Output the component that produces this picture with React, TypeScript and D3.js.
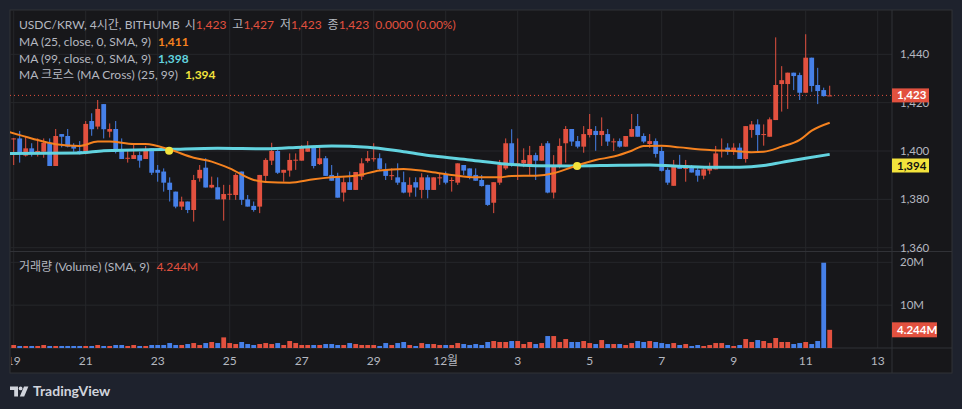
import * as d3 from 'd3';

// 4h candles from 2024-11-19 00:00, index i -> +4h*i
const opens = [
  1405.0, 1405.2, 1398.1, 1401.1, 1398.8, 1399.7, 1403.2, 1393.8, 1407.0, 1406.2,
  1402.1, 1400.0, 1399.0, 1412.4, 1410.1, 1419.4, 1408.0, 1409.1, 1400.0, 1396.9,
  1396.7, 1398.3, 1396.7, 1401.1, 1392.2, 1391.5, 1386.9, 1383.2, 1377.0, 1379.1,
  1375.6, 1388.7, 1393.1, 1384.9, 1385.0, 1380.0, 1382.0, 1381.8, 1391.5, 1380.0,
  1377.3, 1377.0, 1389.7, 1396.0, 1400.0, 1391.0, 1391.9, 1396.2, 1396.0, 1399.7,
  1402.1, 1394.6, 1397.0, 1390.1, 1389.1, 1382.8, 1387.1, 1383.9, 1389.4, 1395.9,
  1396.8, 1397.0, 1392.2, 1389.9, 1389.1, 1387.1, 1382.8, 1387.1, 1383.9, 1389.1,
  1383.9, 1389.0, 1390.1, 1387.9, 1386.9, 1394.2, 1392.8, 1390.1, 1388.0, 1386.0,
  1378.6, 1386.9, 1392.8, 1403.2, 1393.8, 1394.9, 1393.8, 1398.3, 1396.0, 1403.2,
  1382.8, 1393.8, 1403.2, 1409.1, 1404.1, 1401.8, 1406.6, 1408.3, 1406.6, 1407.0,
  1403.8, 1404.1, 1401.8, 1405.9, 1410.3, 1406.2, 1402.9, 1404.1, 1400.0, 1392.2,
  1385.6, 1394.2, 1392.6, 1393.1, 1392.2, 1389.8, 1391.9, 1392.4, 1400.1, 1401.4,
  1399.7, 1401.4, 1396.7, 1408.7, 1411.0, 1406.8, 1405.9, 1412.8, 1427.7, 1427.7,
  1432.4, 1431.4, 1424.1, 1438.6, 1427.3, 1425.2, 1423.0,
];
const highs = [
  1405.4, 1408.3, 1405.9, 1403.2, 1405.2, 1405.2, 1405.2, 1409.1, 1407.0, 1409.1,
  1403.2, 1404.1, 1412.4, 1415.6, 1421.1, 1419.4, 1411.4, 1412.4, 1405.2, 1400.0,
  1403.2, 1399.7, 1402.1, 1401.1, 1394.2, 1392.8, 1389.1, 1383.2, 1381.1, 1379.1,
  1390.1, 1394.2, 1397.0, 1389.4, 1389.1, 1386.0, 1386.0, 1390.8, 1391.5, 1381.8,
  1379.1, 1390.1, 1397.0, 1403.4, 1401.4, 1392.2, 1399.0, 1399.0, 1402.5, 1404.1,
  1402.1, 1401.4, 1397.9, 1394.2, 1391.0, 1389.1, 1391.5, 1391.3, 1397.0, 1400.0,
  1403.2, 1399.0, 1394.9, 1392.8, 1394.9, 1391.5, 1389.1, 1389.1, 1390.8, 1390.1,
  1389.1, 1390.8, 1391.5, 1389.1, 1394.9, 1394.2, 1392.8, 1392.8, 1390.1, 1386.0,
  1387.1, 1396.3, 1405.2, 1409.0, 1405.2, 1401.1, 1402.1, 1399.3, 1403.2, 1404.1,
  1398.3, 1405.2, 1410.3, 1409.1, 1406.2, 1410.3, 1415.3, 1410.3, 1413.9, 1409.1,
  1405.2, 1405.2, 1406.2, 1415.3, 1415.3, 1407.3, 1407.0, 1405.2, 1401.8, 1393.1,
  1396.3, 1398.4, 1396.3, 1394.2, 1393.1, 1393.1, 1395.2, 1402.1, 1405.2, 1403.2,
  1403.2, 1403.2, 1410.3, 1412.4, 1413.1, 1411.0, 1413.9, 1447.0, 1435.1, 1432.4,
  1432.4, 1432.4, 1448.3, 1438.6, 1434.4, 1426.2, 1427.0,
];
const lows = [
  1394.2, 1395.2, 1397.7, 1397.7, 1397.7, 1397.2, 1393.8, 1393.8, 1401.5, 1401.5,
  1399.7, 1398.6, 1398.6, 1406.3, 1409.0, 1405.2, 1405.6, 1399.0, 1396.7, 1395.2,
  1396.7, 1393.1, 1396.7, 1390.1, 1387.3, 1383.2, 1379.1, 1376.3, 1375.6, 1374.3,
  1370.8, 1387.3, 1384.9, 1384.6, 1380.0, 1371.2, 1379.8, 1379.8, 1377.7, 1377.0,
  1374.9, 1374.3, 1387.3, 1394.2, 1390.5, 1387.3, 1389.4, 1392.2, 1396.0, 1399.7,
  1392.8, 1394.2, 1389.7, 1387.7, 1380.7, 1379.1, 1383.9, 1383.9, 1388.0, 1395.2,
  1395.6, 1391.7, 1388.0, 1388.0, 1386.0, 1382.5, 1381.1, 1381.1, 1380.4, 1380.4,
  1383.9, 1386.0, 1386.2, 1383.2, 1386.0, 1390.1, 1388.3, 1387.7, 1385.3, 1377.3,
  1374.3, 1386.0, 1392.2, 1393.5, 1388.0, 1393.3, 1390.1, 1388.0, 1396.0, 1382.5,
  1380.4, 1392.8, 1395.2, 1402.1, 1401.1, 1399.3, 1405.6, 1400.1, 1402.1, 1402.1,
  1400.0, 1401.4, 1401.8, 1405.9, 1405.9, 1403.2, 1401.3, 1397.3, 1391.5, 1386.0,
  1385.6, 1392.6, 1387.3, 1391.1, 1387.3, 1388.3, 1390.4, 1392.4, 1397.3, 1398.4,
  1398.4, 1396.7, 1395.2, 1405.5, 1399.3, 1402.2, 1405.9, 1412.8, 1416.3, 1417.4,
  1425.2, 1421.1, 1424.1, 1424.5, 1419.4, 1422.5, 1423.0,
];
const closes = [
  1405.2, 1398.8, 1401.1, 1398.8, 1400.0, 1403.4, 1393.8, 1406.2, 1405.9, 1401.8,
  1401.0, 1399.0, 1411.2, 1409.0, 1417.4, 1409.0, 1409.1, 1399.7, 1396.7, 1397.2,
  1398.3, 1396.0, 1400.0, 1391.0, 1391.0, 1386.9, 1383.9, 1377.0, 1379.1, 1375.6,
  1388.0, 1392.2, 1384.9, 1386.0, 1380.0, 1382.2, 1382.3, 1390.1, 1379.8, 1377.0,
  1375.6, 1390.1, 1396.3, 1400.0, 1391.0, 1392.2, 1396.3, 1396.4, 1401.4, 1402.1,
  1393.8, 1397.0, 1389.7, 1387.7, 1380.7, 1387.1, 1383.9, 1391.3, 1394.9, 1397.0,
  1397.0, 1392.6, 1389.7, 1390.0, 1386.9, 1382.8, 1386.0, 1384.9, 1389.1, 1383.9,
  1389.1, 1389.1, 1386.9, 1388.0, 1394.9, 1391.9, 1389.7, 1387.7, 1385.5, 1377.7,
  1387.1, 1394.2, 1403.2, 1394.2, 1394.9, 1396.3, 1398.3, 1396.0, 1402.1, 1382.8,
  1394.2, 1402.1, 1409.1, 1403.9, 1401.8, 1407.0, 1409.1, 1406.6, 1408.3, 1403.9,
  1404.0, 1401.8, 1406.2, 1409.1, 1405.9, 1403.9, 1404.1, 1398.8, 1391.8, 1386.9,
  1394.2, 1392.6, 1394.2, 1391.1, 1389.8, 1392.4, 1393.1, 1399.0, 1400.3, 1399.7,
  1401.4, 1396.7, 1410.3, 1411.0, 1406.6, 1407.0, 1413.1, 1427.3, 1429.3, 1432.4,
  1431.0, 1424.1, 1438.6, 1426.9, 1424.8, 1422.7, 1423.0,
];
// volume in millions
const volumes = [
  0.70, 0.47, 0.47, 0.47, 0.47, 0.70, 0.47, 0.47, 0.47, 0.47,
  0.47, 0.47, 0.47, 0.47, 0.70, 0.47, 0.47, 0.70, 0.70, 0.47,
  0.70, 0.47, 0.47, 0.70, 0.70, 0.70, 1.16, 0.70, 0.70, 0.93,
  1.16, 0.70, 1.16, 1.40, 1.16, 2.48, 1.16, 0.93, 1.40, 0.93,
  0.70, 0.93, 1.16, 0.93, 1.16, 0.70, 1.63, 1.16, 0.70, 0.70,
  0.70, 0.70, 0.93, 0.93, 0.70, 0.70, 1.16, 0.93, 0.70, 0.70,
  0.70, 0.47, 1.16, 0.70, 1.16, 1.40, 0.70, 0.47, 1.16, 0.93,
  0.93, 0.70, 0.70, 0.70, 1.16, 0.93, 0.70, 0.93, 0.70, 1.40,
  1.63, 1.40, 1.40, 1.63, 1.63, 0.93, 1.40, 0.93, 1.16, 2.79,
  2.79, 1.40, 2.09, 1.40, 1.40, 1.63, 1.16, 0.93, 1.86, 0.93,
  0.93, 0.93, 0.70, 1.16, 1.63, 1.40, 1.63, 1.40, 1.16, 0.93,
  1.16, 0.70, 0.93, 0.47, 0.70, 0.47, 0.70, 1.16, 1.16, 0.70,
  0.47, 0.70, 2.09, 1.40, 1.86, 1.63, 1.16, 2.33, 1.40, 1.40,
  0.93, 1.16, 1.40, 0.93, 1.63, 19.9, 4.244,
];

// moving averages: [candle index, value]
const ma25 = [
  [-1, 1408], [3, 1405.2], [7, 1402.8], [11, 1402.1], [14, 1403.9], [16, 1403.9],
  [20, 1402.9], [22, 1402.9], [26, 1400.6], [30, 1397.2], [33, 1395.6], [36, 1392.8],
  [40, 1388.0], [42, 1387.2], [46, 1386.9], [50, 1388.3], [53, 1389.1], [57, 1389.8],
  [61, 1391.9], [65, 1392.6], [69, 1391.5], [73, 1390.1], [77, 1389.1], [81, 1389.1],
  [83, 1389.7], [87, 1389.8], [90, 1390.8], [93, 1393.3], [97, 1396.3], [100, 1397.7],
  [103, 1400.1], [105, 1402.1], [108, 1402.2], [111, 1401.5], [116, 1400.4], [120, 1400.0],
  [123, 1399.5], [125, 1399.7], [128, 1401.8], [131, 1404.6], [133, 1408.4], [136, 1411.7],
];
const ma99 = [
  [-1, 1399.0], [11, 1399.2], [15, 1400.1], [26, 1400.7], [34, 1401.1], [42, 1400.9],
  [48, 1401.6], [53, 1402.1], [59, 1401.6], [65, 1399.7], [70, 1397.9], [76, 1396.3],
  [82, 1394.6], [87, 1393.9], [93, 1393.8], [101, 1394.1], [106, 1394.2], [110, 1393.8],
  [116, 1393.3], [121, 1393.3], [125, 1394.0], [128, 1395.3], [132, 1397.0], [136, 1398.6],
];
const crossPoints = [[25.9, 1400.1], [93.9, 1393.8]];

const dayTicks = [
  '2024-11-19', '2024-11-21', '2024-11-23', '2024-11-25', '2024-11-27', '2024-11-29',
  '2024-12-01', '2024-12-03', '2024-12-05', '2024-12-07', '2024-12-09', '2024-12-11', '2024-12-13',
];
const dayLabels = ['19', '21', '23', '25', '27', '29', '12월', '3', '5', '7', '9', '11', '13'];
const priceTicks = [1360, 1380, 1400, 1420, 1440];
const volumeTicks = [10, 20];
const volumeTickLabels = ['10M', '20M'];

const UP = '#e2513f';
const DOWN = '#4680e8';
const ORANGE = '#f5821f';
const CYAN = '#62d3df';
const YELLOW = '#f3e33c';
const TEXT = '#b5b8c0';
const GRID = '#26272b';
const BORDER = '#313237';
const FONT = "Lato, 'Noto Sans CJK KR', sans-serif";

export default function App() {
  const W = 962, H = 409;
  const left = 10, right = 952, plotR = 892, top = 10;
  const priceBottom = 251.5, volTop = 252, volBottom = 348, bottom = 373;

  const parse = d3.timeParse('%Y-%m-%d');
  const start = parse('2024-11-19') as Date;
  const x = d3.scaleTime()
    .domain([start, parse('2024-12-13') as Date])
    .range([13.7, 877.7]);
  const tAt = (i: number) => new Date(start.getTime() + i * 4 * 3600 * 1000);
  const yP = d3.scaleLinear().domain([1360, 1440]).range([247.7, 54.3]);
  const yV = d3.scaleLinear().domain([0, 20]).range([volBottom, 262.3]);

  const bodyW = 4.8;
  const line = d3.line<number[]>()
    .x(d => x(tAt(d[0])))
    .y(d => yP(d[1]))
    .curve(d3.curveMonotoneX);

  const last = closes[closes.length - 1];
  const lastVol = volumes[volumes.length - 1];

  return (
    <svg width={W} height={H} style={{ position: 'absolute', left: 0, top: 0 }} fontFamily={FONT}>
      <defs>
        <clipPath id="pclip"><rect x={left} y={top} width={plotR - left} height={priceBottom - top} /></clipPath>
        <clipPath id="vclip"><rect x={left} y={volTop} width={plotR - left} height={volBottom - volTop} /></clipPath>
        <clipPath id="tclip"><rect x={left + 1} y={volBottom} width={plotR - left} height={bottom - volBottom} /></clipPath>
      </defs>
      <rect width={W} height={H} fill="#1e222d" />
      <rect x={left} y={top} width={right - left} height={bottom - top} fill="#17171a" stroke={BORDER} />

      {/* grid */}
      {dayTicks.map((d, k) => (
        <line key={'vg' + k} x1={x(parse(d) as Date)} x2={x(parse(d) as Date)} y1={top} y2={volBottom} stroke={GRID} />
      ))}
      {priceTicks.map(p => (
        <line key={'pg' + p} x1={left} x2={plotR} y1={yP(p)} y2={yP(p)} stroke={GRID} />
      ))}
      {volumeTicks.map(v => (
        <line key={'vgr' + v} x1={left} x2={plotR} y1={yV(v)} y2={yV(v)} stroke={GRID} />
      ))}

      {/* pane separators */}
      <line x1={left} x2={right} y1={priceBottom} y2={priceBottom} stroke={BORDER} />
      <line x1={left} x2={right} y1={volBottom} y2={volBottom} stroke={BORDER} />
      <line x1={plotR} x2={plotR} y1={top} y2={bottom} stroke={BORDER} />

      {/* last price line */}
      <line x1={left} x2={plotR} y1={yP(last)} y2={yP(last)} stroke={UP} strokeDasharray="1 3" />

      {/* candles */}
      <g clipPath="url(#pclip)">
        {opens.map((o, i) => {
          const c = closes[i];
          const col = c >= o ? UP : DOWN;
          const cx = x(tAt(i));
          const y1 = yP(Math.max(o, c));
          const y2 = yP(Math.min(o, c));
          return (
            <g key={'c' + i}>
              <line x1={cx} x2={cx} y1={yP(highs[i])} y2={yP(lows[i])} stroke={col} />
              <rect x={cx - bodyW / 2} y={y1} width={bodyW} height={Math.max(1, y2 - y1)} fill={col} />
            </g>
          );
        })}
        <path d={line(ma99 as number[][]) || ''} fill="none" stroke={CYAN} strokeWidth={3} />
        <path d={line(ma25 as number[][]) || ''} fill="none" stroke={ORANGE} strokeWidth={2} />
        {crossPoints.map((p, k) => (
          <circle key={'x' + k} cx={x(tAt(p[0]))} cy={yP(p[1])} r={4} fill={YELLOW} />
        ))}
      </g>

      {/* volume */}
      <g clipPath="url(#vclip)">
        {volumes.map((v, i) => {
          const cx = x(tAt(i));
          return (
            <rect key={'v' + i} x={cx - bodyW / 2} y={yV(v)} width={bodyW} height={volBottom - yV(v)}
              fill={closes[i] >= opens[i] ? UP : DOWN} />
          );
        })}
      </g>

      {/* price axis */}
      {priceTicks.map(p => (
        <text key={'pt' + p} x={900} y={yP(p)} dy="0.35em" fontSize={11.5} fill={TEXT}>{d3.format(',')(p)}</text>
      ))}
      {volumeTicks.map((v, k) => (
        <text key={'vt' + v} x={900} y={yV(v)} dy="0.35em" fontSize={11.5} fill={TEXT}>{volumeTickLabels[k]}</text>
      ))}
      <rect x={plotR} y={yP(last) - 7} width={37} height={14} fill={UP} />
      <text x={897} y={yP(last)} dy="0.35em" fontSize={11.5} fontWeight="bold" fill="#fff">{d3.format(',')(last)}</text>
      <rect x={plotR} y={yP(1394) - 7} width={37} height={14} fill={YELLOW} />
      <text x={897} y={yP(1394)} dy="0.35em" fontSize={11.5} fontWeight="bold" fill="#111">1,394</text>
      <rect x={plotR} y={yV(lastVol) - 7.5} width={45} height={15} fill={UP} />
      <text x={897} y={yV(lastVol)} dy="0.35em" fontSize={11.5} fontWeight="bold" fill="#fff">
        {lastVol.toFixed(3)}M
      </text>

      {/* time axis */}
      <g clipPath="url(#tclip)">
        {dayTicks.map((d, k) => (
          <text key={'dt' + k} x={x(parse(d) as Date)} y={361} dy="0.35em" textAnchor="middle" fontSize={12} fill={TEXT}>
            {dayLabels[k]}
          </text>
        ))}
      </g>

      {/* legends */}
      <text x={19} y={25} dy="0.35em" fontSize={12} fill={TEXT}>
        USDC/KRW, 4시간, BITHUMB
        <tspan dx={5}>시</tspan><tspan fill={UP}>1,423</tspan>
        <tspan dx={6}>고</tspan><tspan fill={UP}>1,427</tspan>
        <tspan dx={6}>저</tspan><tspan fill={UP}>1,423</tspan>
        <tspan dx={6}>종</tspan><tspan fill={UP}>1,423</tspan>
        <tspan dx={6} fill={UP}>0.0000 (0.00%)</tspan>
      </text>
      <text x={19} y={42} dy="0.35em" fontSize={12} fill={TEXT}>
        MA (25, close, 0, SMA, 9)<tspan dx={7} fill={ORANGE} fontWeight="bold">1,411</tspan>
      </text>
      <text x={19} y={59} dy="0.35em" fontSize={12} fill={TEXT}>
        MA (99, close, 0, SMA, 9)<tspan dx={7} fill={CYAN} fontWeight="bold">1,398</tspan>
      </text>
      <text x={19} y={75} dy="0.35em" fontSize={12} fill={TEXT}>
        MA 크로스 (MA Cross) (25, 99)<tspan dx={7} fill={YELLOW} fontWeight="bold">1,394</tspan>
      </text>
      <text x={19} y={267} dy="0.35em" fontSize={12} fill={TEXT}>
        거래량 (Volume) (SMA, 9)<tspan dx={7} fill={UP}>4.244M</tspan>
      </text>

      {/* logo */}
      <g fill="#d1d4dc">
        <path d="M10 386.5h8v10h-3.8v-6.4H10z" />
        <circle cx={20.6} cy={388.4} r={1.9} />
        <path d="M24 386.5h4.4l-4.2 10h-4.4z" />
      </g>
      <text x={33} y={391.5} dy="0.35em" fontSize={14} fontWeight="bold" fill="#d1d4dc">TradingView</text>
    </svg>
  );
}
